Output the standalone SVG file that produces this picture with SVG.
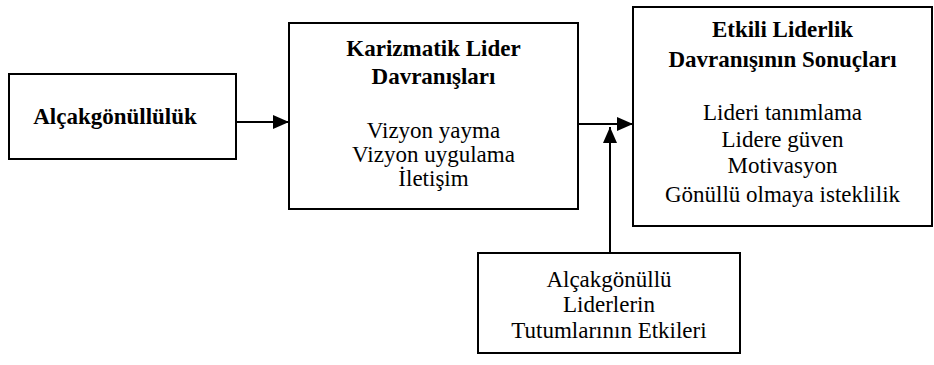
<svg xmlns="http://www.w3.org/2000/svg" width="934" height="365" viewBox="0 0 934 365">
<style>
.box{fill:#fff;stroke:#000;stroke-width:2}
text{font-family:"Liberation Serif","Times New Roman",serif;font-size:23px;fill:#000;text-anchor:middle}
.b{font-weight:bold}
.c{stroke:#000;stroke-width:2;fill:none}
</style>
<defs>
<marker id="ah" markerWidth="16" markerHeight="14" refX="16" refY="7" orient="auto" markerUnits="userSpaceOnUse">
<path d="M0,0 L16,7 L0,14 z" fill="#000"/>
</marker>
</defs>
<rect width="934" height="365" fill="#fff"/>
<g id="n1">
<rect class="box" x="9" y="74" width="227" height="85"/>
<text class="b" x="115" y="124">Alçakgönüllülük</text>
</g>
<g id="n2">
<rect class="box" x="289" y="23" width="289" height="186"/>
<text class="b" x="433.5" y="56">Karizmatik Lider</text>
<text class="b" x="433.5" y="84">Davranışları</text>
<text x="433.5" y="138">Vizyon yayma</text>
<text x="433.5" y="162">Vizyon uygulama</text>
<text x="433.5" y="186">İletişim</text>
</g>
<g id="n3">
<rect class="box" x="633" y="7" width="299" height="219"/>
<text class="b" x="782.5" y="37">Etkili Liderlik</text>
<text class="b" x="782.5" y="67">Davranışının Sonuçları</text>
<text x="782.5" y="120">Lideri tanımlama</text>
<text x="782.5" y="147">Lidere güven</text>
<text x="782.5" y="173">Motivasyon</text>
<text x="782.5" y="202">Gönüllü olmaya isteklilik</text>
</g>
<g id="n4">
<rect class="box" x="478" y="253" width="262" height="100"/>
<text x="609" y="287">Alçakgönüllü</text>
<text x="609" y="312">Liderlerin</text>
<text x="609" y="338">Tutumlarının Etkileri</text>
</g>
<g id="connectors">
<line class="c" x1="236" y1="122" x2="289" y2="122" marker-end="url(#ah)"/>
<line class="c" x1="578" y1="124" x2="633" y2="124" marker-end="url(#ah)"/>
<line class="c" x1="610" y1="253" x2="610" y2="127" marker-end="url(#ah)"/>
</g>
</svg>
